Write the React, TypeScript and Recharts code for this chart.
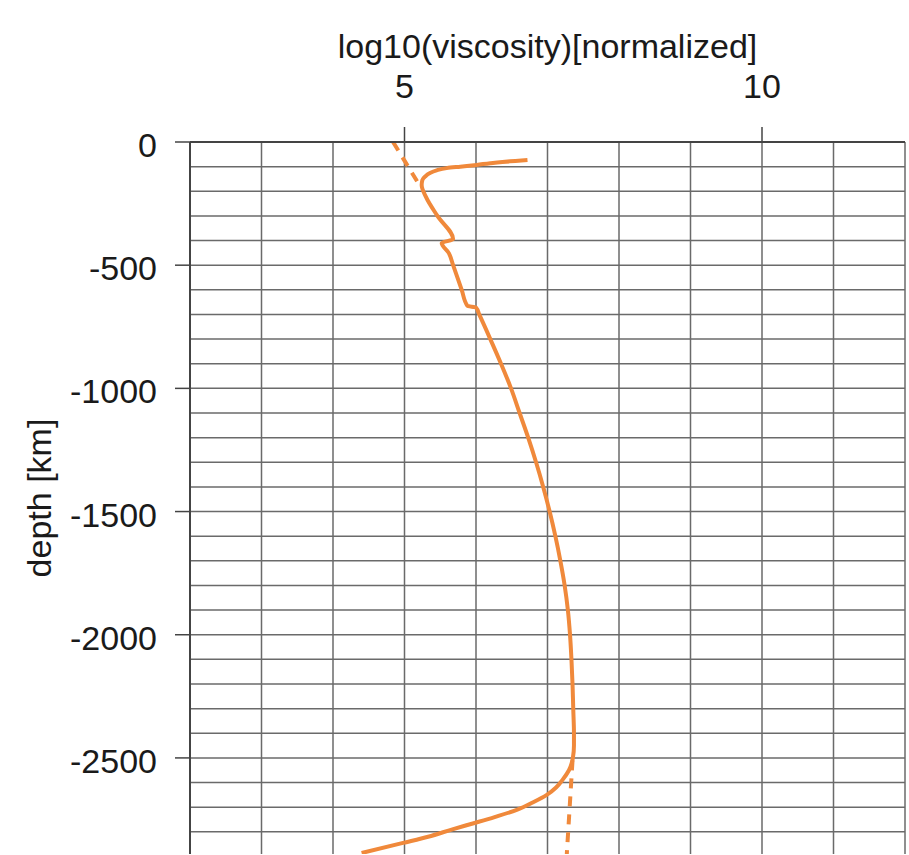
import { LineChart, Line, XAxis, YAxis, CartesianGrid } from 'recharts';

// Viscosity profile through the mantle (depth in km, negative downward)
const profileDepth = [
  -73, -77, -81, -86, -93, -100, -106, -115, -127, -140, -154, -175, -223,
  -300, -395, -410, -451, -500, -600, -665, -672, -700, -800, -900, -1000,
  -1100, -1200, -1300, -1400, -1500, -1600, -1700, -1800, -1900, -2000, -2100,
  -2200, -2300, -2400, -2450, -2500, -2550, -2589, -2620, -2650, -2680, -2711,
  -2740, -2764, -2790, -2820, -2845, -2886,
];
const profileVisc = [
  6.72, 6.55, 6.37, 6.2, 6.01, 5.78, 5.59, 5.45, 5.35, 5.29, 5.25, 5.24, 5.3,
  5.46, 5.68, 5.52, 5.62, 5.68, 5.8, 5.88, 6.0, 6.045, 6.2, 6.35, 6.49,
  6.61, 6.73, 6.84, 6.94, 7.03, 7.11, 7.18, 7.24, 7.285, 7.315, 7.335,
  7.35, 7.36, 7.37, 7.37, 7.355, 7.3, 7.21, 7.12, 6.99, 6.8, 6.57,
  6.26, 5.98, 5.67, 5.33, 4.98, 4.4,
];

// Extrapolated parts shown dashed
const upperDashDepth = [0, -180];
const upperDashVisc = [4.84, 5.22];
const lowerDashDepth = [-2510, -2890];
const lowerDashVisc = [7.35, 7.27];

const viscTicks = [5, 10];
const viscGrid = [3, 4, 5, 6, 7, 8, 9, 10, 11, 12];
const depthTicks = [0, -500, -1000, -1500, -2000, -2500];
const depthGrid = [
  0, -100, -200, -300, -400, -500, -600, -700, -800, -900, -1000, -1100, -1200,
  -1300, -1400, -1500, -1600, -1700, -1800, -1900, -2000, -2100, -2200, -2300,
  -2400, -2500, -2600, -2700, -2800,
];

const toRows = (depths: number[], values: number[]) =>
  depths.map((depth, i) => ({ depth, visc: values[i] }));

const profile = toRows(profileDepth, profileVisc);
const upperDash = toRows(upperDashDepth, upperDashVisc);
const lowerDash = toRows(lowerDashDepth, lowerDashVisc);

const ORANGE = '#f0893b';
const FONT = '"Liberation Sans", Arial, sans-serif';
const tickStyle = { fill: '#1a1a1a', fontSize: 34, fontFamily: FONT };

export default function App() {
  return (
    <div style={{ position: 'absolute', left: 0, top: 0, background: '#fff' }}>
      <LineChart
        layout="vertical"
        width={909}
        height={855}
        margin={{ top: 0, right: 4, bottom: 1, left: 0 }}
      >
        <CartesianGrid
          horizontalValues={depthGrid}
          verticalValues={viscGrid}
          stroke="#6a6a6a"
          strokeWidth={1.5}
        />
        <XAxis
          type="number"
          orientation="top"
          domain={[2, 12]}
          ticks={viscTicks}
          height={142}
          tick={tickStyle}
          tickSize={15}
          tickMargin={29}
          axisLine={{ stroke: '#444', strokeWidth: 2 }}
          tickLine={{ stroke: '#444', strokeWidth: 1.5 }}
          allowDataOverflow
          label={{
            value: 'log10(viscosity)[normalized]',
            position: 'insideTop',
            offset: 34,
            style: { fill: '#1a1a1a', fontSize: 34, fontFamily: FONT },
          }}
        />
        <YAxis
          type="number"
          dataKey="depth"
          domain={[-2890, 0]}
          reversed
          ticks={depthTicks}
          width={190}
          tick={{ ...tickStyle, dy: 3 }}
          tickSize={15}
          tickMargin={18}
          axisLine={{ stroke: '#444', strokeWidth: 2 }}
          tickLine={{ stroke: '#444', strokeWidth: 1.5 }}
          allowDataOverflow
          label={{
            value: 'depth [km]',
            angle: -90,
            position: 'insideLeft',
            offset: 39,
            style: { fill: '#1a1a1a', fontSize: 34, fontFamily: FONT, textAnchor: 'middle' },
          }}
        />
        <Line
          data={upperDash}
          dataKey="visc"
          type="linear"
          stroke={ORANGE}
          strokeWidth={4}
          strokeDasharray="10 8"
          dot={false}
          isAnimationActive={false}
        />
        <Line
          data={lowerDash}
          dataKey="visc"
          type="linear"
          stroke={ORANGE}
          strokeWidth={4}
          strokeDasharray="10 8"
          dot={false}
          isAnimationActive={false}
        />
        <Line
          data={profile}
          dataKey="visc"
          type="monotone"
          stroke={ORANGE}
          strokeWidth={4}
          strokeLinejoin="round"
          dot={false}
          isAnimationActive={false}
        />
      </LineChart>
    </div>
  );
}
